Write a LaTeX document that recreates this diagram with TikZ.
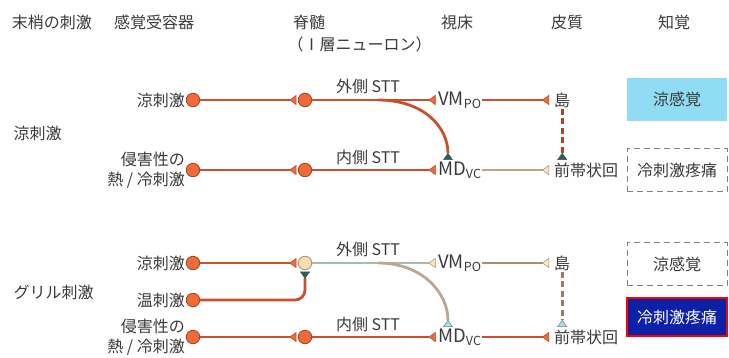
\documentclass[tikz,border=0pt]{standalone}
\usepackage{fontspec}
\setmainfont{Noto Sans CJK JP}
\usetikzlibrary{positioning, arrows.meta, calc}

\definecolor{axred}{HTML}{C9502E}
\definecolor{cellred}{HTML}{F26A35}
\definecolor{cellpale}{HTML}{F6DDB6}
\definecolor{tealdk}{HTML}{2F5C5A}
\definecolor{tipcream}{HTML}{F6E6C4}
\definecolor{tipblue}{HTML}{A9DDEA}
\definecolor{axgrey}{HTML}{A9BBA9}
\definecolor{axtan}{HTML}{BFA58C}
\definecolor{axbrown}{HTML}{B08A6C}
\definecolor{coolfill}{HTML}{8FDCF4}
\definecolor{painfill}{HTML}{0C20A8}
\definecolor{txt}{HTML}{3A3A3A}
\newcommand\relaysub[1]{\raisebox{-3pt}{\fontsize{12.5}{13}\selectfont #1}}

\begin{document}
\begin{tikzpicture}[x=1pt, y=-1pt,
  every node/.style={font=\fontsize{16}{20}\selectfont, text=txt},
  neuron/.style={circle, minimum size=13.5pt, inner sep=0pt, fill=cellred,
    draw=cellred!65!black, line width=0.8pt},
  lab/.style={anchor=east, inner sep=1pt, align=right},
  relay/.style={anchor=west, inner sep=1pt},
  thal/.style={relay, font=\fontsize{18.5}{20}\selectfont},
  axon/.style={line width=2.8pt, draw=axred, shorten >=1.5pt},
  dashaxon/.style={axon, dash pattern=on 6pt off 3.5pt},
  percept/.style={minimum width=100pt, minimum height=43pt, inner sep=0pt},
  synR/.tip={Triangle[reversed, length=7pt, width=10pt, fill=cellred,
    color=cellred!70!black, line width=0.5pt]},
  synT/.tip={Triangle[reversed, length=7pt, width=10pt, fill=tealdk,
    color=tealdk, line width=0.5pt]},
  synC/.tip={Triangle[reversed, length=7pt, width=10pt, fill=tipcream,
    color=axbrown, line width=0.5pt]},
  synB/.tip={Triangle[reversed, length=7pt, width=10pt, fill=tipblue,
    color=tipblue!60!black, line width=0.5pt]}]
  \useasboundingbox (0,0) rectangle (729,357);
  \def\xr{193}
  \def\xs{305}
  \def\xt{437}
  \def\xc{553}
  \def\ya{100}
  \def\yb{170}
  \def\yc{263}
  \def\yw{300}
  \def\yd{337}

  % column heads
  \node (h1) at (52,22) {末梢の刺激};
  \node (h2) at (154,22) {感覚受容器};
  \node (h3) at (309,22) {脊髄};
  \node[anchor=west] (h3b) at (284,44) {（Ⅰ層ニューロン）};
  \node (h4) at (457,22) {視床};
  \node (h5) at (567,22) {皮質};
  \node (h6) at (674,22) {知覚};

  % cool stimulus
  \node[anchor=west] (g1) at (10,133) {涼刺激};
  \node[lab] (t1a) at (186,\ya) {涼刺激};
  \node[lab] (t1b) at (186,\yb) {侵害性の\\熱 / 冷刺激};
  \node[neuron] (r1a) at (\xr,\ya) {};
  \node[neuron] (r1b) at (\xr,\yb) {};
  \node[neuron] (s1a) at (\xs,\ya) {};
  \node[neuron] (s1b) at (\xs,\yb) {};
  \node[thal] (vm1) at (\xt,\ya) {VM\relaysub{PO}};
  \node[thal] (md1) at (\xt,\yb) {MD\relaysub{VC}};
  \node[relay] (is1) at (\xc,\ya) {島};
  \node[relay] (ac1) at (\xc,\yb) {前帯状回};
  \coordinate (b1) at (378,\ya);
  \coordinate (m1) at ($(md1.north west)+(11,1)$);
  \node (l1a) at (368,86) {外側 STT};
  \node (l1b) at (368,157) {内側 STT};

  \draw[axon, -synR] (r1a) -- (s1a);
  \draw[axon, -synR] (r1b) -- (s1b);
  \draw[axon, -synR] (s1a) -- (vm1);
  \draw[axon, -synR] (s1b) -- (md1);
  \draw[axon, -synT] (b1) .. controls +(45,0) and +(0,-35) .. (m1);
  \draw[axon, -synR, shorten >=4pt] (vm1) -- (is1);
  \draw[axon, draw=axtan, -synC, shorten >=4pt] (md1) -- (ac1);
  \draw[dashaxon, draw=axred!85!black, -synT] (is1.south) -- (is1.south |- ac1.north);

  % grill stimulus
  \node[anchor=west] (g2) at (10,292) {グリル刺激};
  \node[lab] (t2a) at (186,\yc) {涼刺激};
  \node[lab] (t2w) at (186,\yw) {温刺激};
  \node[lab] (t2b) at (186,\yd) {侵害性の\\熱 / 冷刺激};
  \node[neuron] (r2a) at (\xr,\yc) {};
  \node[neuron] (r2w) at (\xr,\yw) {};
  \node[neuron] (r2b) at (\xr,\yd) {};
  \node[neuron, fill=cellpale, draw=axbrown] (s2a) at (\xs,\yc) {};
  \node[neuron] (s2b) at (\xs,\yd) {};
  \node[thal] (vm2) at (\xt,\yc) {VM\relaysub{PO}};
  \node[thal] (md2) at (\xt,\yd) {MD\relaysub{VC}};
  \node[relay] (is2) at (\xc,\yc) {島};
  \node[relay] (ac2) at (\xc,\yd) {前帯状回};
  \coordinate (b2) at (378,\yc);
  \coordinate (m2) at ($(md2.north west)+(11,1)$);
  \node (l2a) at (368,249) {外側 STT};
  \node (l2b) at (368,324) {内側 STT};

  \draw[axon, -synR] (r2a) -- (s2a);
  \draw[axon, rounded corners=10pt, -synT] (r2w) -| (s2a);
  \draw[axon, -synR] (r2b) -- (s2b);
  \draw[axon, draw=axgrey, -synC] (s2a) -- (vm2);
  \draw[axon, -synR] (s2b) -- (md2);
  \draw[axon, draw=axtan, -synB] (b2) .. controls +(45,0) and +(0,-35) .. (m2);
  \draw[axon, draw=axbrown, -synC, shorten >=4pt] (vm2) -- (is2);
  \draw[axon, -synR, shorten >=4pt] (md2) -- (ac2);
  \draw[dashaxon, draw=axbrown!90!black, -synB] (is2.south) -- (is2.south |- ac2.north);

  % perception
  \node[percept, fill=coolfill] (p1) at (677,99) {涼感覚};
  \node[percept, draw=gray, line width=1pt, dash pattern=on 6pt off 4pt] (p2) at (677,170) {冷刺激疼痛};
  \node[percept, draw=gray, line width=1pt, dash pattern=on 6pt off 4pt] (p3) at (677,264) {涼感覚};
  \node[percept, minimum height=38pt, fill=painfill, draw=red, line width=2.5pt, text=white] (p4) at (677,317) {冷刺激疼痛};
\end{tikzpicture}
\end{document}
